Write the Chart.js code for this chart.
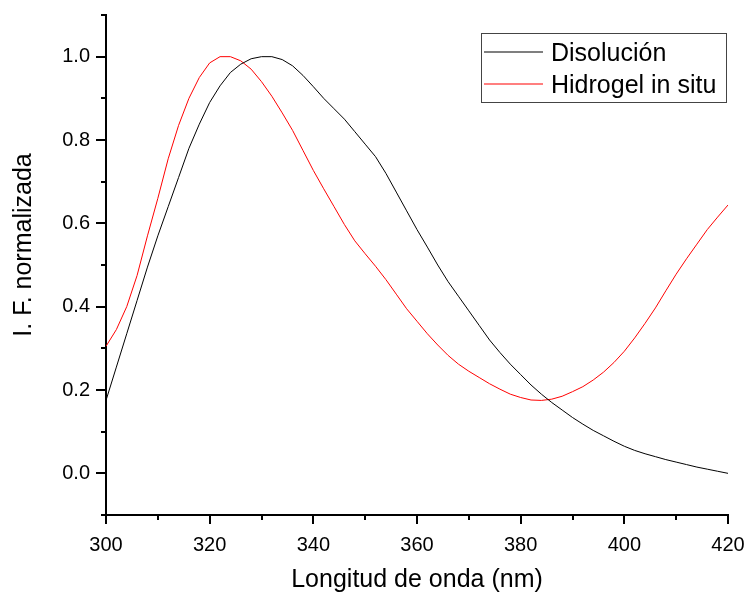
<!DOCTYPE html>
<html>
<head>
<meta charset="utf-8">
<script src="https://cdn.jsdelivr.net/npm/chart.js@4/dist/chart.umd.min.js"></script>
<style>
  body { margin: 0; background: #fff; }
  canvas { display: block; }
</style>
</head>
<body>
<canvas id="chart" width="749" height="592"></canvas>
<script>
// wavelengths (nm), every 2 nm
const wavelengths = [300, 302, 304, 306, 308, 310, 312, 314, 316, 318, 320, 322, 324, 326, 328, 330, 332, 334, 336, 338,
    340, 342, 344, 346, 348, 350, 352, 354, 356, 358, 360, 362, 364, 366, 368, 370, 372, 374, 376, 378,
    380, 382, 384, 386, 388, 390, 392, 394, 396, 398, 400, 402, 404, 406, 408, 410, 412, 414, 416, 418, 420];

const disolucion = [0.175, 0.255, 0.335, 0.415, 0.495, 0.57, 0.64, 0.71, 0.78, 0.838, 0.89, 0.93, 0.962, 0.982, 0.995, 1.0, 1.0, 0.993, 0.978, 0.955,
    0.928, 0.90, 0.875, 0.85, 0.82, 0.79, 0.76, 0.72, 0.675, 0.63, 0.585, 0.543, 0.50, 0.46, 0.425, 0.39, 0.355, 0.32, 0.29, 0.262,
    0.237, 0.212, 0.19, 0.17, 0.152, 0.134, 0.118, 0.103, 0.09, 0.077, 0.065, 0.055, 0.047, 0.04, 0.033, 0.027, 0.021, 0.015, 0.01, 0.005, 0.0];

const hidrogel = [0.305, 0.345, 0.40, 0.475, 0.57, 0.66, 0.755, 0.835, 0.90, 0.95, 0.985, 1.0, 1.0, 0.99, 0.97, 0.94, 0.905, 0.865, 0.823, 0.775,
    0.727, 0.683, 0.64, 0.597, 0.558, 0.527, 0.497, 0.465, 0.43, 0.395, 0.365, 0.335, 0.308, 0.283, 0.262, 0.245, 0.23, 0.215, 0.202, 0.19,
    0.182, 0.176, 0.175, 0.178, 0.185, 0.196, 0.208, 0.224, 0.243, 0.266, 0.293, 0.325, 0.36, 0.397, 0.438, 0.478, 0.515, 0.55, 0.585, 0.615, 0.644];

const seriesNames = ['Disolución', 'Hidrogel in situ'];
const seriesColors = ['#000000', '#ff0000'];
const xTitle = 'Longitud de onda (nm)';
const yTitle = 'I. F. normalizada';

const FONT = '"Liberation Sans", Arial, sans-serif';

const toPoints = (ys) => wavelengths.map((x, i) => ({ x: x, y: ys[i] }));

// tick marks, axis titles and the boxed legend
const decorations = {
    id: 'decorations',
    afterDraw(chart) {
        const c = chart.ctx;
        const xs = chart.scales.x, ys = chart.scales.y;
        const area = chart.chartArea;
        c.save();
        c.strokeStyle = '#000';
        c.lineWidth = 2;
        // x ticks
        for (let v = 300; v <= 420; v += 10) {
            const px = Math.round(xs.getPixelForValue(v));
            const len = v % 20 === 0 ? 9 : 5;
            c.beginPath();
            c.moveTo(px, area.bottom);
            c.lineTo(px, area.bottom + len);
            c.stroke();
        }
        // y ticks
        for (let k = -1; k <= 11; k++) {
            const py = Math.round(ys.getPixelForValue(k / 10));
            const len = ((k % 2) + 2) % 2 === 0 ? 10 : 5;
            c.beginPath();
            c.moveTo(area.left, py);
            c.lineTo(area.left - len, py);
            c.stroke();
        }

        // axis titles
        c.fillStyle = '#000';
        c.font = '25px ' + FONT;
        c.textAlign = 'center';
        c.textBaseline = 'alphabetic';
        c.fillText(xTitle, (area.left + area.right) / 2, 587);
        c.translate(31, 245);
        c.rotate(-Math.PI / 2);
        c.fillText(yTitle, 0, 0);
        c.setTransform(1, 0, 0, 1, 0, 0);

        // legend
        c.strokeStyle = '#444';
        c.lineWidth = 1;
        c.strokeRect(481.5, 33.5, 245, 69);
        const rows = [52, 84];
        const bases = [61, 93];
        c.textAlign = 'left';
        seriesNames.forEach((name, i) => {
            c.strokeStyle = seriesColors[i];
            c.lineWidth = 1.2;
            c.beginPath();
            c.moveTo(484, rows[i]);
            c.lineTo(543, rows[i]);
            c.stroke();
            c.fillStyle = '#000';
            c.fillText(name, 551, bases[i]);
        });
        c.restore();
    }
};

const ctx = document.getElementById('chart').getContext('2d');
const chart = new Chart(ctx, {
    type: 'line',
    data: {
        datasets: [
            { label: seriesNames[0], data: toPoints(disolucion), borderColor: seriesColors[0], borderWidth: 1, pointRadius: 0, tension: 0, fill: false },
            { label: seriesNames[1], data: toPoints(hidrogel), borderColor: seriesColors[1], borderWidth: 1, pointRadius: 0, tension: 0, fill: false }
        ]
    },
    options: {
        responsive: false,
        animation: false,
        layout: { padding: { top: 15, right: 21, left: 0, bottom: 0 } },
        plugins: { legend: { display: false }, tooltip: { enabled: false } },
        scales: {
            x: {
                type: 'linear', min: 300, max: 420,
                afterFit: (s) => { s.height = 77; s.paddingLeft = 0; s.paddingRight = 0; },
                border: { display: true, color: '#000', width: 2 },
                grid: { display: false, drawTicks: false },
                ticks: {
                    stepSize: 10, padding: 18, color: '#000', maxRotation: 0,
                    font: { family: FONT, size: 20 },
                    callback: (v) => (v % 20 === 0 ? String(v) : '')
                }
            },
            y: {
                type: 'linear', min: -0.1, max: 1.1,
                afterFit: (s) => { s.width = 106; s.paddingTop = 0; s.paddingBottom = 0; },
                border: { display: true, color: '#000', width: 2 },
                grid: { display: false, drawTicks: false },
                ticks: {
                    stepSize: 0.1, padding: 16, color: '#000',
                    font: { family: FONT, size: 20 },
                    callback: (v) => {
                        const k = Math.round(v * 10);
                        return (k >= 0 && k <= 10 && k % 2 === 0) ? (k / 10).toFixed(1) : '';
                    }
                }
            }
        }
    },
    plugins: [decorations]
});
</script>
</body>
</html>
